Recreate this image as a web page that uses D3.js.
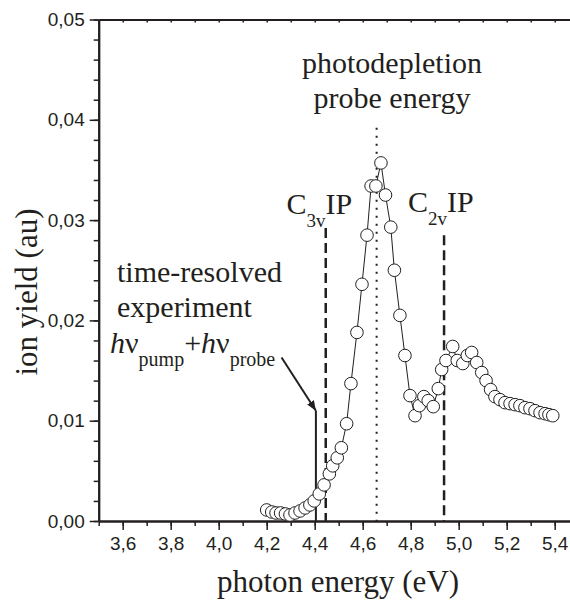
<!DOCTYPE html>
<html>
<head>
<meta charset="utf-8">
<script src="https://cdn.jsdelivr.net/npm/d3@7"></script>
<style>
  body { margin: 0; background: #fff; }
  .serif { font-family: "Liberation Serif", "Times New Roman", serif; fill: #231f20; }
  .axis text { font-family: "Liberation Sans", Arial, sans-serif; font-size: 19px; fill: #231f20; }
</style>
</head>
<body>
<div id="chart"></div>
<script>
// photon energy (eV) and ion yield (au)
var energy = [4.200, 4.221, 4.239, 4.258, 4.278, 4.297, 4.318, 4.339, 4.360, 4.380,
              4.398, 4.419, 4.439, 4.461, 4.475, 4.494, 4.511, 4.533, 4.551, 4.576,
              4.597, 4.618, 4.635, 4.655, 4.676, 4.695, 4.717, 4.732, 4.755, 4.776,
              4.797, 4.818, 4.836, 4.855, 4.873, 4.894, 4.915, 4.929, 4.947, 4.975,
              4.994, 5.017, 5.036, 5.054, 5.075, 5.096, 5.114, 5.133, 5.151, 5.172,
              5.193, 5.214, 5.235, 5.255, 5.276, 5.297, 5.318, 5.339, 5.360, 5.376,
              5.392];
var ionYield = [0.0011, 0.0009, 0.0008, 0.0008, 0.0007, 0.0006, 0.0008, 0.0010, 0.0013, 0.0016,
                0.0020, 0.0027, 0.0036, 0.0047, 0.0055, 0.0063, 0.0073, 0.0097, 0.0137, 0.0188,
                0.0236, 0.0285, 0.0334, 0.0334, 0.0357, 0.0325, 0.0293, 0.0250, 0.0205, 0.0165,
                0.0125, 0.0105, 0.0115, 0.0124, 0.0120, 0.0114, 0.0132, 0.0151, 0.0160, 0.0174,
                0.0160, 0.0157, 0.0165, 0.0168, 0.0158, 0.0148, 0.0140, 0.0131, 0.0124, 0.0121,
                0.0118, 0.0117, 0.0116, 0.0115, 0.0113, 0.0112, 0.0110, 0.0108, 0.0107, 0.0106,
                0.0105];

var xTicks = [3.6, 3.8, 4.0, 4.2, 4.4, 4.6, 4.8, 5.0, 5.2, 5.4];
var yTicks = [0.00, 0.01, 0.02, 0.03, 0.04, 0.05];

// marker lines: ionisation potentials (dashed), probe energy (dotted), pump+probe (solid)
var ipLines = [
  {x: 4.446, top: 0.0292, sub: "3v", lx: 4.282, ly: 0.0306},
  {x: 4.939, top: 0.0285, sub: "2v", lx: 4.789, ly: 0.0308}
];
var probeLine = {x: 4.658, top: 0.0392};
var pumpProbe = {x: 4.405, top: 0.0110, fromX: 4.262, fromY: 0.0163};

var data = energy.map(function(e, i) { return {x: e, y: ionYield[i]}; });

var W = 570, H = 603;
var margin = {top: 19.5, left: 98.7, bottom: 82};

var x = d3.scaleLinear().domain([3.5, 5.47]).range([margin.left, margin.left + 1.97 * 240]);
var y = d3.scaleLinear().domain([0, 0.05]).range([H - margin.bottom, margin.top]);

var svg = d3.select("#chart").append("svg")
    .attr("width", W)
    .attr("height", H);

var comma = function(f) { return function(d) { return d3.format(f)(d).replace(".", ","); }; };

// minor ticks
svg.append("g")
    .attr("class", "axis")
    .attr("transform", "translate(" + margin.left + ",0)")
    .call(d3.axisLeft(y).tickValues(d3.range(0, 0.0501, 0.002)).tickSize(5).tickSizeOuter(0).tickFormat(""));
svg.append("g")
    .attr("class", "axis")
    .attr("transform", "translate(0," + y(0) + ")")
    .call(d3.axisBottom(x).tickValues(d3.range(3.5, 5.46, 0.1)).tickSize(5).tickSizeOuter(0).tickFormat(""));
svg.append("g")
    .attr("class", "axis")
    .attr("transform", "translate(0," + y(0.05) + ")")
    .call(d3.axisBottom(x).tickValues(d3.range(3.5, 5.46, 0.1)).tickSize(3).tickSizeOuter(0).tickFormat(""));

// major ticks
var yAxis = svg.append("g")
    .attr("class", "axis")
    .attr("transform", "translate(" + margin.left + ",0)")
    .call(d3.axisLeft(y).tickValues(yTicks).tickSize(9).tickPadding(5).tickSizeOuter(0).tickFormat(comma(".2f")));
var xAxis = svg.append("g")
    .attr("class", "axis")
    .attr("transform", "translate(0," + y(0) + ")")
    .call(d3.axisBottom(x).tickValues(xTicks).tickSize(9).tickPadding(7).tickSizeOuter(0).tickFormat(comma(".1f")));

svg.selectAll(".axis path").attr("stroke", "#231f20").attr("stroke-width", 2);
svg.selectAll(".axis line").attr("stroke", "#231f20").attr("stroke-width", 1.5);

// probe energy, dotted
svg.append("line")
    .attr("x1", x(probeLine.x)).attr("x2", x(probeLine.x))
    .attr("y1", y(probeLine.top)).attr("y2", y(0))
    .attr("stroke", "#231f20").attr("stroke-width", 2)
    .attr("stroke-dasharray", "2,6");

// IP lines, dashed
svg.selectAll(".ip").data(ipLines).enter().append("line")
    .attr("class", "ip")
    .attr("x1", function(d) { return x(d.x); }).attr("x2", function(d) { return x(d.x); })
    .attr("y1", function(d) { return y(d.top); }).attr("y2", y(0))
    .attr("stroke", "#231f20").attr("stroke-width", 2.5)
    .attr("stroke-dasharray", "10,5");

var ipText = svg.selectAll(".iplab").data(ipLines).enter().append("text")
    .attr("class", "serif iplab")
    .attr("x", function(d) { return x(d.lx); })
    .attr("y", function(d) { return y(d.ly); })
    .style("font-size", "30px");
ipText.append("tspan").text("C");
ipText.append("tspan").attr("dy", 13).style("font-size", "19px").text(function(d) { return d.sub; });
ipText.append("tspan").attr("dy", -13).text("IP");

// pump + probe arrow
svg.append("defs").append("marker")
    .attr("id", "head")
    .attr("viewBox", "0 0 10 10")
    .attr("refX", 10).attr("refY", 5)
    .attr("markerWidth", 5).attr("markerHeight", 5)
    .attr("orient", "auto")
    .append("path").attr("d", "M0,1L10,5L0,9Z").attr("fill", "#231f20");

svg.append("line")
    .attr("x1", x(pumpProbe.fromX)).attr("y1", y(pumpProbe.fromY))
    .attr("x2", x(pumpProbe.x)).attr("y2", y(pumpProbe.top))
    .attr("stroke", "#231f20").attr("stroke-width", 2)
    .attr("marker-end", "url(#head)");
svg.append("line")
    .attr("x1", x(pumpProbe.x)).attr("x2", x(pumpProbe.x))
    .attr("y1", y(pumpProbe.top)).attr("y2", y(0))
    .attr("stroke", "#231f20").attr("stroke-width", 2);

// data
var line = d3.line()
    .x(function(d) { return x(d.x); })
    .y(function(d) { return y(d.y); });

svg.append("path")
    .datum(data)
    .attr("fill", "none")
    .attr("stroke", "#231f20")
    .attr("stroke-width", 1)
    .attr("d", line);

svg.selectAll(".pt").data(data).enter().append("circle")
    .attr("class", "pt")
    .attr("cx", function(d) { return x(d.x); })
    .attr("cy", function(d) { return y(d.y); })
    .attr("r", 6.3)
    .attr("fill", "#fff")
    .attr("stroke", "#231f20")
    .attr("stroke-width", 1);

// text annotations
svg.append("text").attr("class", "serif")
    .attr("x", 392).attr("y", 73)
    .attr("text-anchor", "middle").style("font-size", "30px")
    .text("photodepletion");
svg.append("text").attr("class", "serif")
    .attr("x", 392).attr("y", 108)
    .attr("text-anchor", "middle").style("font-size", "30px")
    .text("probe energy");

svg.append("text").attr("class", "serif")
    .attr("x", 117).attr("y", 282).style("font-size", "30px")
    .text("time-resolved");
svg.append("text").attr("class", "serif")
    .attr("x", 117).attr("y", 317).style("font-size", "30px")
    .text("experiment");

var hv = svg.append("text").attr("class", "serif")
    .attr("x", 110).attr("y", 353).style("font-size", "30px");
hv.append("tspan").style("font-style", "italic").text("h");
hv.append("tspan").text("\u03bd");
hv.append("tspan").attr("dy", 13).style("font-size", "20px").text("pump");
hv.append("tspan").attr("dy", -13).text("+");
hv.append("tspan").style("font-style", "italic").text("h");
hv.append("tspan").text("\u03bd");
hv.append("tspan").attr("dy", 13).style("font-size", "20px").text("probe");

// axis titles
svg.append("text").attr("class", "serif")
    .attr("transform", "translate(37,292) rotate(-90)")
    .attr("text-anchor", "middle").style("font-size", "31px")
    .text("ion yield (au)");
svg.append("text").attr("class", "serif")
    .attr("x", 338).attr("y", 592)
    .attr("text-anchor", "middle").style("font-size", "31px")
    .text("photon energy (eV)");
</script>
</body>
</html>
